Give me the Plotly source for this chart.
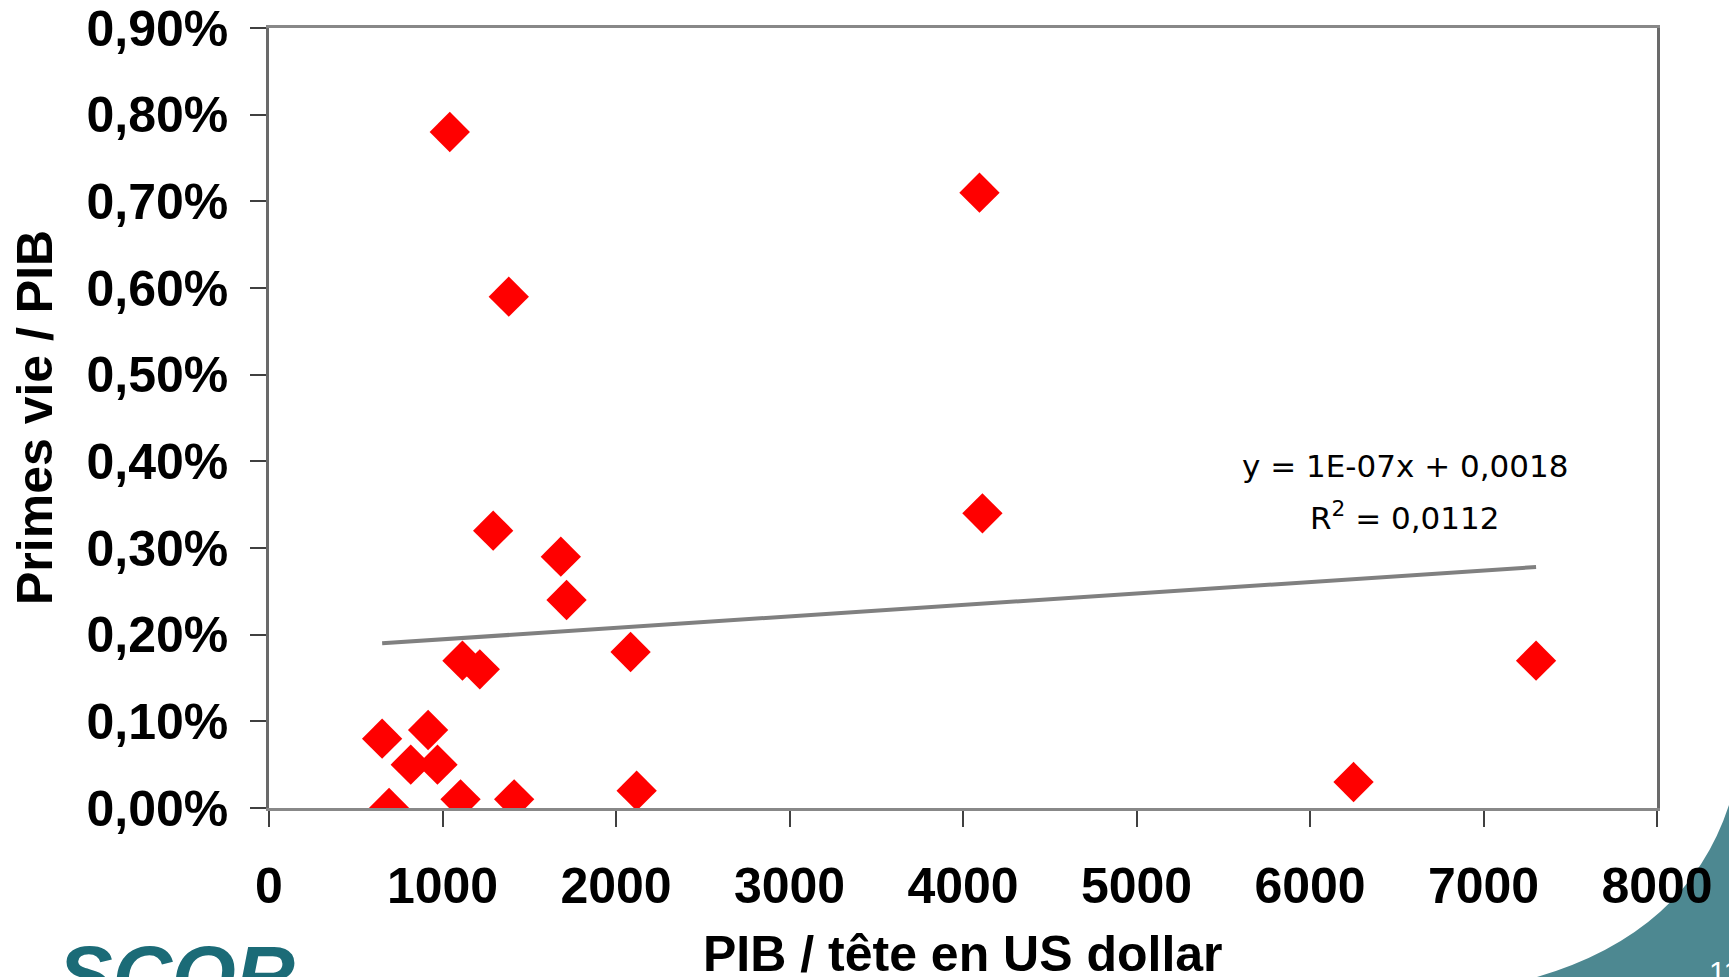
import plotly.graph_objects as go

# --- data ---
pib_par_tete = [1042, 4095, 1382, 4112, 1292, 1682, 1715, 2084, 7303, 1115,
                1215, 652, 917, 817, 971, 692, 1104, 1413, 2119, 6251]
primes_vie_pib = [0.0078, 0.0071, 0.0059, 0.0034, 0.0032, 0.0029, 0.0024, 0.0018, 0.0017, 0.0017,
                  0.0016, 0.0008, 0.0009, 0.0005, 0.0005, 0.0000, 0.0001, 0.0001, 0.0002, 0.0003]
trend_x = [652, 7303]
trend_y = [0.00190, 0.00278]
x_ticks = [0, 1000, 2000, 3000, 4000, 5000, 6000, 7000, 8000]
y_ticks = [0, 0.001, 0.002, 0.003, 0.004, 0.005, 0.006, 0.007, 0.008, 0.009]
equation_line1 = "y = 1E-07x + 0,0018"
equation_line2 = "R<sup>2</sup> = 0,0112"
x_title = "PIB / tête en US dollar"
y_title = "Primes vie / PIB"

W, H = 1729, 977
L, R, T, B = 269, 72, 28, 169

FONT = "Liberation Sans, Arial, sans-serif"

fig = go.Figure()
fig.add_trace(go.Scatter(
    x=trend_x, y=trend_y, mode="lines",
    line=dict(color="#808080", width=4),
    hoverinfo="skip", showlegend=False,
))
fig.add_trace(go.Scatter(
    x=pib_par_tete, y=primes_vie_pib, mode="markers",
    marker=dict(symbol="diamond", size=31, color="#ff0000", line=dict(width=0)),
    showlegend=False,
))

pw, ph = W - L - R, H - T - B
def px(xp):
    return (xp - L) / pw
def py(yp):
    return (H - B - yp) / ph

# axis titles (as annotations so they can sit at the page edge like the slide)
fig.add_annotation(x=0.5, y=py(954), xref="paper", yref="paper", text=f"<b>{x_title}</b>",
                   showarrow=False, xanchor="center", yanchor="middle",
                   font=dict(family=FONT, size=50, color="black"))
fig.add_annotation(x=px(35), y=0.5, xref="paper", yref="paper", text=f"<b>{y_title}</b>",
                   showarrow=False, xanchor="center", yanchor="middle", textangle=-90,
                   font=dict(family=FONT, size=50, color="black"))

# decorative slide elements: teal swoosh bottom-right
path = (f"M {px(1537)},{py(977)} Q {px(1687)},{py(933)} {px(1729)},{py(805)} "
        f"L {px(1760)},{py(805)} L {px(1760)},{py(1000)} L {px(1537)},{py(1000)} Z")
fig.add_shape(type="path", path=path, xref="paper", yref="paper",
              fillcolor="#4d8891", line=dict(width=0), layer="below")

fig.add_annotation(x=px(1707), y=py(953), xref="paper", yref="paper",
                   text="11", showarrow=False, xanchor="left", yanchor="top",
                   font=dict(family=FONT, size=30, color="white"))
fig.add_annotation(x=px(56), y=py(927), xref="paper", yref="paper",
                   text="<b><i>SCOR</i></b>", showarrow=False, xanchor="left", yanchor="top",
                   font=dict(family=FONT, size=82, color="#1b6b77"))

# trendline equation
fig.add_annotation(x=6545, y=0.00395, xref="x", yref="y", text=equation_line1,
                   showarrow=False, xanchor="center", yanchor="middle",
                   font=dict(family="DejaVu Sans", size=31, color="black"))
fig.add_annotation(x=6545, y=0.00337, xref="x", yref="y", text=equation_line2,
                   showarrow=False, xanchor="center", yanchor="middle",
                   font=dict(family="DejaVu Sans", size=31, color="black"))

fig.update_layout(
    width=W, height=H,
    margin=dict(l=L, r=R, t=T, b=B, autoexpand=False),
    paper_bgcolor="white", plot_bgcolor="white",
    separators=", ",
    font=dict(family=FONT, color="black"),
    xaxis=dict(
        range=[0, 8000], tickvals=x_ticks, tickformat="d",
        showgrid=False, zeroline=False,
        showline=True, linecolor="#888888", linewidth=3, mirror=True,
        ticks="outside", ticklen=16, tickwidth=1.5, tickcolor="#404040",
        tickfont=dict(family=FONT, size=50, color="black", weight="bold"),
        ticklabelstandoff=16,
        automargin=False,
    ),
    yaxis=dict(
        range=[0, 0.009], tickvals=y_ticks, tickformat=".2%",
        showgrid=False, zeroline=False,
        showline=True, linecolor="#6a6a6a", linewidth=2.5, mirror=True,
        ticks="outside", ticklen=16, tickwidth=1.5, tickcolor="#404040",
        tickfont=dict(family=FONT, size=50, color="black", weight="bold"),
        ticklabelstandoff=12,
        automargin=False,
    ),
)

fig.write_html("out.html", config={"displayModeBar": False},
               post_script="document.body.style.margin='0';document.body.style.overflow='hidden';")
